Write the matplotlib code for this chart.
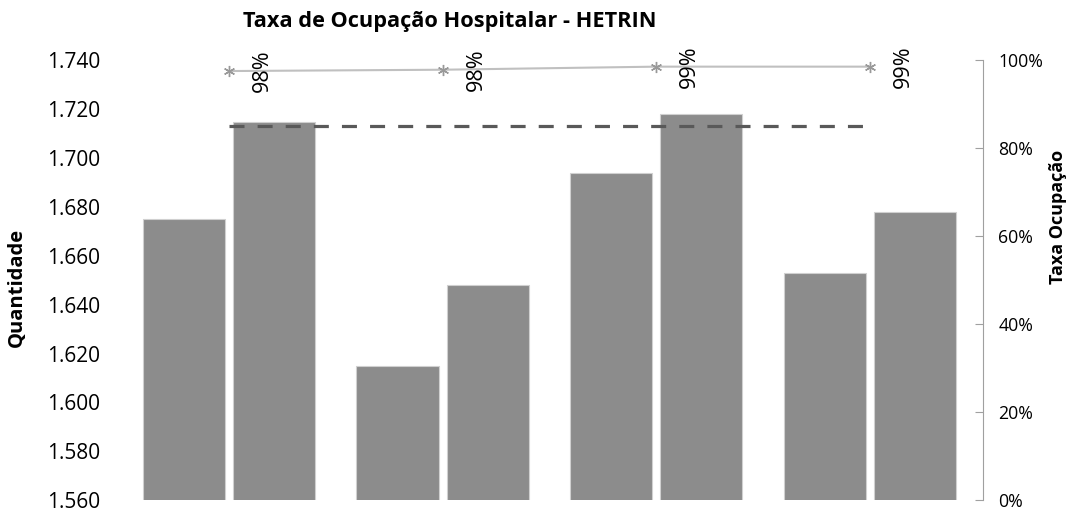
import matplotlib
matplotlib.use("Agg")
import matplotlib.pyplot as plt
import numpy as np
from matplotlib.ticker import FuncFormatter

plt.rcParams['font.family'] = ['Open Sans', 'DejaVu Sans']

groups = ["G1", "G2", "G3", "G4"]
serie_a = [1675, 1615, 1694, 1653]
serie_b = [1715, 1648, 1718, 1678]
taxa = [97.6, 97.9, 98.6, 98.6]
meta = [85, 85, 85, 85]
left_ticks = [1560, 1580, 1600, 1620, 1640, 1660, 1680, 1700, 1720, 1740]
right_ticks = [0, 20, 40, 60, 80, 100]

fig = plt.figure(figsize=(10.74, 5.14), dpi=100)
ax = fig.add_axes([0.1138, 0.0272, 0.8015, 0.8551])
x = np.arange(len(groups))
w = 0.385
off = 0.2107
ax.bar(x - off, serie_a, w, color='#8c8c8c', edgecolor='#d0d0d0', linewidth=0.8)
ax.bar(x + off, serie_b, w, color='#8c8c8c', edgecolor='#d0d0d0', linewidth=0.8)
ax.set_ylim(1560, 1740)
ax.set_xlim(-0.5, 3.53)
ax.set_yticks(left_ticks)
ax.yaxis.set_major_formatter(FuncFormatter(lambda v, p: f"{v/1000:.3f}"))
ax.tick_params(axis='y', length=0, pad=16, labelsize=15, labelcolor='#000000')
ax.set_xticks([])
for s in ax.spines.values():
    s.set_visible(False)

ax2 = ax.twinx()
ax2.set_ylim(0, 100)
ax2.set_xlim(-0.5, 3.53)
ax2.set_yticks(right_ticks)
ax2.yaxis.set_major_formatter(FuncFormatter(lambda v, p: f"{v:.0f}%"))
ax2.tick_params(axis='y', direction='in', length=6, width=0.8, color='#a0a0a0',
                pad=11, labelsize=12.7, labelcolor='#000000')
for k, s in ax2.spines.items():
    s.set_visible(k == 'right')
ax2.spines['right'].set_color('#a0a0a0')
ax2.spines['right'].set_linewidth(0.8)

ax2.plot(x, meta, color='#595959', linewidth=2.3, linestyle=(0, (4.7, 4.1)))
ax2.plot(x, taxa, color='#c0c0c0', linewidth=1.5, marker=(6, 2, 0),
         markersize=8, markeredgecolor='#999999', markeredgewidth=1.0)
for xi, t in zip(x, taxa):
    ax2.annotate(f"{t:.0f}%", (xi, t), xytext=(24, 0), textcoords='offset points',
                 rotation=90, ha='center', va='center', fontsize=15.5, color='#000000')

fig.text(0.419, 0.958, "Taxa de Ocupação Hospitalar - HETRIN", ha='center', va='center',
         fontsize=15.7, fontweight='bold')
fig.text(0.016, 0.44, "Quantidade", rotation=90, ha='center', va='center',
         fontsize=14.5, fontweight='bold')
fig.text(0.985, 0.578, "Taxa Ocupação", rotation=90, ha='center', va='center',
         fontsize=13, fontweight='bold')

fig.savefig("out.png", dpi=100, facecolor='white')
